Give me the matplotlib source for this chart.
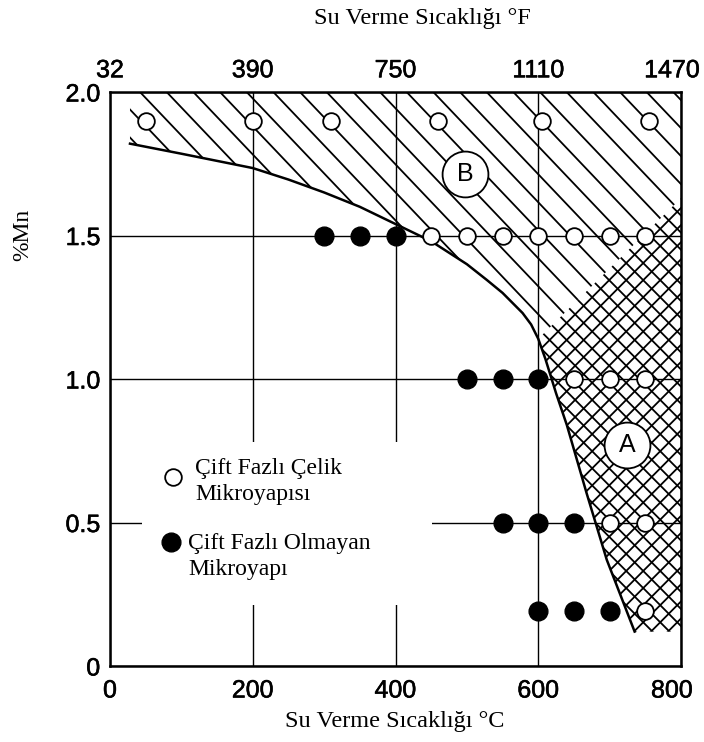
import numpy as np
import matplotlib
matplotlib.use("Agg")
import matplotlib.pyplot as plt
import matplotlib.transforms as mtransforms
import matplotlib.patheffects as pe
from matplotlib.patches import Polygon, Rectangle
from matplotlib.collections import LineCollection

# data
c_ticks = [0, 200, 400, 600, 800]
f_labels = ['32', '390', '750', '1110', '1470']
mn_ticks = [0, 0.5, 1.0, 1.5, 2.0]
mn_labels = ['0', '0.5', '1.0', '1.5', '2.0']

# dual phase (open circles)
dp_temp = [50, 200, 310, 460, 605, 755,
           450, 500, 550, 600, 650, 700, 750,
           650, 700, 750,
           700, 750,
           750]
dp_mn = [1.9] * 6 + [1.5] * 7 + [1.0] * 3 + [0.5] * 2 + [0.19]

# non dual phase (filled circles)
ndp_temp = [300, 350, 400, 500, 550, 600, 550, 600, 650, 600, 650, 700]
ndp_mn = [1.5] * 3 + [1.0] * 3 + [0.5] * 3 + [0.19] * 3

# boundary curve between no-DP and DP regions
curve_temp = [28, 100, 200, 250, 300, 350, 400, 450, 500, 528, 550, 578, 590,
              600, 610, 625, 640, 668, 696, 735]
curve_mn = [1.82, 1.785, 1.735, 1.695, 1.65, 1.60, 1.54, 1.48, 1.40, 1.345, 1.30,
            1.23, 1.19, 1.14, 1.07, 0.95, 0.84, 0.60, 0.37, 0.12]
junction = 13  # index where A/B border leaves the curve (600, 1.14)
ab_end = (800, 1.63)
a_bottom = 0.12

# region labels
region_names = ['B', 'A']
region_temp = [498, 725]
region_mn = [1.714, 0.77]

SANS = 'Liberation Sans'
SERIF = 'Liberation Serif'

fig = plt.figure(figsize=(7.04, 7.42), dpi=100)
ax = fig.add_axes([0.15625, 0.1024, 0.8111, 0.7736])
ax.set_xlim(0, 800)
ax.set_ylim(0, 2.0)

# region polygons
pts = list(zip(curve_temp, curve_mn))
b_poly = [(curve_temp[0], 2.0), (800, 2.0), ab_end] + pts[junction::-1]
a_poly = pts[junction:] + [(800, a_bottom), ab_end]
b_patch = Polygon(b_poly, closed=True, facecolor='none', edgecolor='none')
a_patch = Polygon(a_poly, closed=True, facecolor='none', edgecolor='none')
ax.add_patch(b_patch)
ax.add_patch(a_patch)


def hatch_lines(direction, spacing, phase, slope=1.045):
    segs = []
    for x0 in np.arange(phase - spacing * 60, 2.2, spacing):
        if x0 < -1.2:
            continue
        if direction == 'down':
            segs.append([(x0 - 1.5, 1 + 1.5 * slope), (x0 + 1.5, 1 - 1.5 * slope)])
        else:
            segs.append([(x0 - 1.5, 1 - 1.5 * slope), (x0 + 1.5, 1 + 1.5 * slope)])
    return segs


lc = LineCollection(hatch_lines('down', 0.0467, 0.0525), colors='black',
                    linewidths=1.3, transform=ax.transAxes, zorder=1.8)
lc.set_clip_path(b_patch)
ax.add_collection(lc, autolim=False)

for d in ['down', 'up']:
    lc = LineCollection(hatch_lines(d, 0.0298, 0.01, slope=1.0), colors='black',
                        linewidths=1.3, transform=ax.transAxes, zorder=1.8)
    lc.set_clip_path(a_patch)
    ax.add_collection(lc, autolim=False)

# boundary curve
ax.plot(curve_temp, curve_mn, color='black', lw=1.8, zorder=3)

# grid
ax.set_xticks(c_ticks)
ax.set_yticks(mn_ticks)
ax.set_yticklabels(mn_labels)
ax.grid(True, color='black', linewidth=1.0)

# white box behind legend text
ax.add_patch(Rectangle((0.056, 0.106), 0.508, 0.284, transform=ax.transAxes,
                       facecolor='white', edgecolor='none', zorder=2.5))

# points
ax.plot(dp_temp, dp_mn, 'o', ms=12, mfc='white', mec='black', mew=1.3, zorder=4)
ax.plot(ndp_temp, ndp_mn, 'o', ms=13.5, mfc='black', mec='black', zorder=4)

# region labels
for name, t, m in zip(region_names, region_temp, region_mn):
    ax.plot(t, m, 'o', ms=33, mfc='white', mec='black', mew=1.3, zorder=4)
    ax.text(t, m, name, ha='center', va='center', fontsize=18,
            family=SANS, zorder=5)

# legend
ax.plot(0.110, 0.329, 'o', ms=12, mfc='white', mec='black', mew=1.3,
        transform=ax.transAxes, zorder=5)
ax.plot(0.107, 0.216, 'o', ms=13.5, mfc='black', mec='black',
        transform=ax.transAxes, zorder=5)
ax.text(0.149, 0.321, 'Çift Fazlı Çelik\nMikroyapısı', transform=ax.transAxes,
        ha='left', va='center', fontsize=17, family=SERIF, linespacing=1.3, zorder=5)
ax.text(0.137, 0.191, 'Çift Fazlı Olmayan\nMikroyapı', transform=ax.transAxes,
        ha='left', va='center', fontsize=17, family=SERIF, linespacing=1.3, zorder=5)

# axes styling
for s in ax.spines.values():
    s.set_linewidth(1.8)
ax.tick_params(axis='x', length=0, pad=9, labelsize=18)
ax.tick_params(axis='y', length=0, pad=7, labelsize=18)

heavy = [pe.withStroke(linewidth=0.4, foreground='black')]

ax2 = ax.twiny()
ax2.set_xlim(ax.get_xlim())
ax2.set_xticks(c_ticks)
ax2.set_xticklabels(f_labels)
ax2.tick_params(axis='x', length=0, pad=7, labelsize=18)
for s in ax2.spines.values():
    s.set_visible(False)

shift = mtransforms.ScaledTranslation(-9 / 100, 0, fig.dpi_scale_trans)
for lab in ax.get_xticklabels() + ax.get_yticklabels() + ax2.get_xticklabels():
    lab.set_family(SANS)
    lab.set_path_effects(heavy)
for lab in [ax.get_xticklabels()[-1], ax2.get_xticklabels()[-1]]:
    lab.set_transform(lab.get_transform() + shift)

fig.text(0.6, 0.975, 'Su Verme Sıcaklığı °F', ha='center', va='center',
         fontsize=17.5, family=SERIF)
fig.text(0.561, 0.027, 'Su Verme Sıcaklığı °C', ha='center', va='center',
         fontsize=17.5, family=SERIF)
fig.text(0.033, 0.683, '%Mn', ha='center', va='center', rotation=90,
         fontsize=17, family=SERIF)

fig.savefig('out.png', dpi=100)
